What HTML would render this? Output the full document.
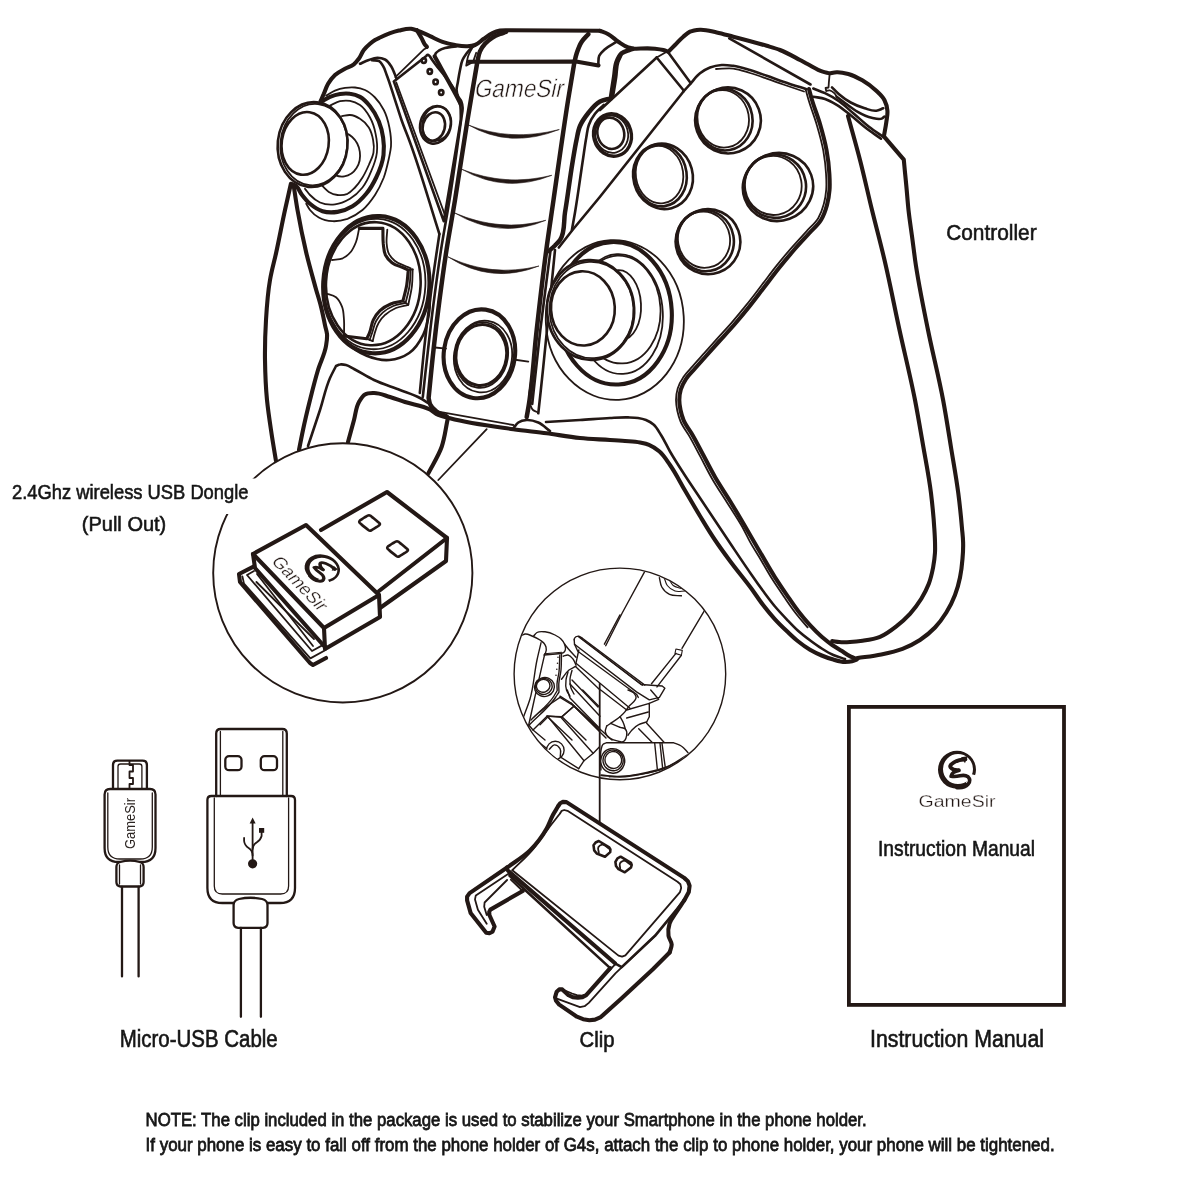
<!DOCTYPE html>
<html><head><meta charset="utf-8"><title>GameSir G4s package contents</title>
<style>
html,body{margin:0;padding:0;background:#fff;}
body{width:1200px;height:1200px;overflow:hidden;font-family:"Liberation Sans",sans-serif;}
svg{display:block;will-change:transform;}
path,ellipse,circle,rect,line{fill:none;stroke:#231815;stroke-linecap:round;stroke-linejoin:round;}
.x{stroke-width:4.5}
.o{stroke-width:4.1}
.c{stroke-width:3.1}
.m{stroke-width:2.6}
.u{stroke-width:2.3}
.t{stroke-width:1.8}
.h{stroke-width:1.3}
.w{fill:#fff}
.k{fill:#231815;stroke:none}
text{font-family:"Liberation Sans",sans-serif;fill:#161616;stroke:#161616;stroke-width:0.6;}
text.gs{fill:#231815;stroke:#fff;stroke-width:.3;}
#cg .t{stroke-width:1.4}
#cg .h{stroke-width:1.1}
#cg .m{stroke-width:2}
</style></head><body>
<svg width="1200" height="1200" viewBox="0 0 1200 1200">
<rect x="0" y="0" width="1200" height="1200" style="fill:#fff;stroke:none"/>
<defs>
<g id="emb">
<path class="k" fill-rule="evenodd" d="M-19,0a19,19 0 1 0 38,0a19,19 0 1 0 -38,0ZM-14,-0.700a15,15 0 1 1 30,0a15,15 0 1 1 -30,0Z"/>
<path d="M13,4L24,7L21,20L9,13Z" style="fill:#fff;stroke:none"/>
<path d="M8.500,-10.500Q2,-10.500 -3,-7.500T-6.500,-2.500Q-4,0.800 1.800,0.300" style="stroke-width:3.800"/>
<path d="M1.800,0.800Q-5,2 -6,6.500Q-2,7.200 3,6T11,7Q14.500,10.500 11,14.500T0,17.800" style="stroke-width:3.600"/>
<path class="k" d="M4,-12.500L10.500,-13.500L8,-6.500Z"/>
</g>
</defs>
<path class="t" d="M326.2,95.6C329.2,94.0 331.9,91.9 335.0,90.6C338.2,89.3 341.6,88.4 345.0,87.9C348.3,87.4 351.7,87.2 355.0,87.5C358.4,87.8 361.9,88.6 365.0,90.0C368.8,91.7 372.1,94.6 375.0,97.5C378.6,101.1 381.4,105.5 383.8,110.0C386.6,115.4 388.2,121.5 389.4,127.5C390.6,133.6 391.4,140.0 391.0,146.2C390.7,150.5 389.6,154.6 388.8,158.8C387.4,165.1 386.0,171.5 383.8,177.5C381.4,183.6 378.6,189.5 375.0,195.0C371.4,200.4 367.5,205.8 362.5,210.0C358.0,213.7 353.0,216.8 347.5,218.8C342.7,220.4 337.6,221.5 332.5,221.2C327.8,221.0 322.9,219.8 318.8,217.5C315.4,215.6 312.4,213.0 310.0,210.0C308.5,208.1 307.5,205.8 306.2,203.8"/>
<path class="o" d="M321.2,101.9C324.2,100.2 326.9,98.2 330.0,96.9C333.2,95.5 336.6,94.5 340.0,94.0C343.3,93.5 346.7,93.3 350.0,93.8C353.5,94.2 356.9,95.2 360.0,96.9C364.0,99.1 367.1,102.7 370.0,106.2C373.7,110.7 376.5,115.9 378.8,121.2C380.9,126.4 382.3,131.9 383.1,137.5C384.0,143.3 384.2,149.2 383.5,155.0C382.6,162.8 379.6,170.4 376.2,177.5C373.5,183.2 370.3,188.9 366.2,193.8C362.3,198.5 357.8,203.1 352.5,206.2C347.9,209.0 342.8,211.1 337.5,211.9C332.6,212.6 327.3,212.7 322.5,211.2C317.9,209.8 313.7,206.9 310.0,203.8C306.6,200.9 303.9,197.3 301.2,193.8C299.5,191.3 298.6,188.1 296.2,186.2C294.8,185.1 292.9,184.6 291.2,183.8"/>
<path class="t" d="M330.0,105.6C333.3,104.2 336.4,102.0 340.0,101.2C343.3,100.5 346.7,100.3 350.0,100.9C353.6,101.5 357.0,103.0 360.0,105.0C364.4,108.0 367.4,112.8 370.0,117.5C372.8,122.5 374.5,128.1 375.6,133.8C376.9,139.9 377.6,146.3 376.9,152.5C376.2,159.0 373.8,165.2 371.2,171.2C368.9,176.9 366.3,182.7 362.5,187.5C359.0,191.9 354.8,195.9 350.0,198.8C345.4,201.5 340.3,203.8 335.0,204.4C330.0,204.9 324.6,204.5 320.0,202.5C316.2,200.8 312.9,198.0 310.0,195.0C308.1,193.1 306.7,190.8 305.0,188.8"/>
<path class="t" d="M341.9,116.2C344.6,115.8 347.3,114.8 350.0,115.0C353.6,115.2 357.0,116.9 360.0,118.8C363.5,120.9 366.5,124.0 368.8,127.5C371.1,131.2 372.3,135.7 373.1,140.0C373.9,144.1 374.2,148.4 373.5,152.5C372.8,156.9 370.5,160.9 368.8,165.0C366.9,169.3 365.0,173.5 362.5,177.5C360.3,181.0 357.9,184.5 355.0,187.5C352.7,189.8 350.5,192.4 347.5,193.8C344.4,195.1 340.8,195.4 337.5,195.0C334.4,194.6 331.4,193.5 328.8,191.9C326.4,190.4 324.6,188.1 322.5,186.2"/>
<ellipse class="t" cx="341.2" cy="154.4" rx="18.8" ry="22.2" transform="rotate(-8.0 341.2 154.4)"/>
<ellipse class="m w" cx="312.6" cy="144.6" rx="34.9" ry="42.5" transform="rotate(6.0 312.6 144.6)"/>
<ellipse class="t" cx="313.8" cy="144.6" rx="33.4" ry="40.8" transform="rotate(6.0 313.8 144.6)"/>
<ellipse class="m" cx="305.2" cy="143.4" rx="23.5" ry="31.5" transform="rotate(8.0 305.2 143.4)"/>
<path class="o" d="M290.9,183.8C288.9,192.5 286.9,201.2 285.0,210.0C281.9,224.1 279.3,238.4 276.2,252.5C274.2,261.7 271.6,270.7 270.0,280.0C267.7,293.2 266.8,306.6 266.0,320.0C265.2,333.3 264.8,346.7 265.0,360.0C265.2,373.3 265.7,386.7 267.0,400.0C268.0,410.0 269.5,420.0 271.0,430.0C272.5,440.4 274.3,450.7 276.0,461.0"/>
<path class="o" d="M293.8,186.2C295.0,194.2 296.1,202.1 297.5,210.0C300.0,224.2 302.9,238.4 306.2,252.5C309.2,265.1 312.8,277.5 316.2,290.0C317.9,295.8 319.8,301.6 321.2,307.5C322.8,313.7 323.9,320.0 325.2,326.2C325.8,328.8 326.7,331.4 327.0,334.0C327.4,338.0 326.6,342.0 326.0,346.0C324.7,354.3 320.4,361.9 318.0,370.0C315.0,379.9 312.5,390.0 310.0,400.0C307.5,410.0 305.1,420.0 303.0,430.0C301.6,436.6 300.3,443.3 299.0,450.0"/>
<path class="o" d="M320.6,101.2C321.7,98.8 322.7,96.2 323.8,93.8C325.2,90.4 326.3,86.9 328.1,83.8C330.0,80.6 332.3,77.5 335.0,75.0C337.9,72.4 341.6,70.7 345.0,68.8C347.9,67.2 351.2,66.4 353.8,64.4C355.7,62.8 357.3,60.8 358.8,58.8C360.8,56.1 361.7,52.7 363.8,50.0C365.6,47.7 367.8,45.7 370.0,43.8C371.6,42.4 373.2,41.1 375.0,40.0C376.6,39.0 378.3,38.3 380.0,37.5C386.0,34.7 392.3,32.1 398.8,30.6C402.9,29.7 407.1,28.2 411.2,28.8C413.4,29.1 415.4,29.9 417.5,30.6C421.8,32.1 425.8,34.4 430.0,36.2C434.2,38.1 438.2,40.4 442.5,41.9C446.6,43.3 450.8,44.3 455.0,45.0C459.1,45.7 463.3,46.5 467.5,46.2C470.0,46.1 472.6,45.9 475.0,45.0C478.4,43.8 480.8,40.8 483.8,38.8C486.6,36.8 489.3,34.6 492.5,33.1C494.9,32.0 497.4,31.1 500.0,30.6C503.3,30.0 506.7,30.4 510.0,30.2L600.0,30.8"/>
<path class="o" d="M416.9,30.2C418.3,32.7 419.9,35.0 421.2,37.5C422.4,39.5 423.1,41.8 424.4,43.8C425.1,44.9 426.0,45.8 426.9,46.9"/>
<ellipse class="m" cx="423.8" cy="60.6" rx="2.2" ry="2.4"/>
<ellipse class="m" cx="429.8" cy="71.5" rx="2.2" ry="2.4"/>
<ellipse class="m" cx="435.6" cy="81.9" rx="2.2" ry="2.4"/>
<ellipse class="m" cx="441.2" cy="92.5" rx="2.2" ry="2.4"/>
<ellipse class="m" cx="435.5" cy="124.8" rx="15.2" ry="19.0" transform="rotate(15.0 435.5 124.8)"/>
<ellipse class="t" cx="436.5" cy="123.8" rx="14.0" ry="17.5" transform="rotate(15.0 436.5 123.8)"/>
<ellipse class="m" cx="433.8" cy="126.5" rx="11.0" ry="14.4" transform="rotate(15.0 433.8 126.5)"/>
<path class="t" d="M471.9,48.5C470.6,51.1 469.1,53.5 468.1,56.2C467.1,59.3 466.9,62.5 466.2,65.6L473.1,61.9L476.2,52.8"/>
<path class="m" d="M393.8,81.4C404.5,73.0 415.2,64.6 426.0,56.2C426.6,55.7 427.0,54.8 427.8,54.8C428.6,54.8 429.1,55.7 429.8,56.2C440.0,72.9 458.0,86.9 460.4,106.3C461.0,110.8 460.7,115.4 460.8,120.0L443.8,221.3L393.8,81.4"/>
<path class="t" d="M396.3,82.5L445.3,216.0"/>
<path class="t" d="M395.4,77.1L424.2,49.2L427.5,47.5"/>
<path class="m" d="M360.0,63.8C362.9,62.5 365.8,61.0 368.8,60.0C371.6,59.0 374.5,57.8 377.5,57.8C380.1,57.8 382.7,58.3 385.0,59.5C387.8,61.0 389.6,63.8 391.3,66.5C392.6,68.6 393.4,71.0 394.4,73.3C395.2,75.1 395.9,77.0 396.6,78.8"/>
<path class="m" d="M372.0,60.3C374.4,60.6 377.1,59.9 379.2,61.2C380.8,62.2 381.8,63.9 382.8,65.5C384.7,68.3 385.5,71.8 386.7,75.0C389.7,82.6 391.9,90.5 394.5,98.3C396.9,105.5 399.0,112.8 401.5,120.0C404.0,127.1 406.9,134.0 409.5,141.0C420.8,171.5 429.4,203.0 439.4,234.0"/>
<path class="o" d="M434.6,56.3C440.8,67.5 447.2,78.7 453.3,90.0C455.8,94.7 458.3,99.5 460.8,104.2"/>
<path class="m" d="M434.6,56.3C435.0,55.3 435.2,54.2 435.8,53.3C436.6,52.1 438.0,51.2 439.2,50.4C441.0,49.2 443.0,48.5 445.0,47.9C446.6,47.5 448.3,47.3 450.0,47.1C452.0,46.8 454.0,46.7 456.0,46.5"/>
<ellipse class="o" cx="376.3" cy="284.7" rx="53.1" ry="68.7" transform="rotate(3.0 376.3 284.7)"/>
<ellipse class="t" cx="374.7" cy="284.0" rx="50.7" ry="65.3" transform="rotate(3.0 374.7 284.0)"/>
<ellipse class="m" cx="373.3" cy="283.7" rx="47.3" ry="61.6" transform="rotate(3.0 373.3 283.7)"/>
<path class="m" d="M331.2,321.8C335.9,328.4 339.6,335.9 345.4,341.6C351.5,347.6 358.8,352.7 366.7,355.8C373.8,358.6 381.7,360.7 389.3,360.0C396.3,359.4 403.5,357.0 409.2,353.0C415.5,348.6 419.9,341.5 423.3,334.6C426.5,328.0 427.9,320.6 429.0,313.3C430.1,306.3 429.7,299.1 430.1,292.0"/>
<path class="c" d="M359.3,228.4L382.9,228.4C383.1,233.6 382.7,238.8 383.3,244.0C383.8,247.6 383.8,251.4 385.3,254.7C386.8,257.8 389.3,260.5 392.0,262.7C395.4,265.4 400.0,266.2 404.0,268.0C405.4,268.7 406.8,269.3 408.3,270.0C407.7,275.1 407.5,280.3 406.7,285.3C405.8,290.6 404.2,295.8 402.9,301.1C398.8,302.0 394.5,302.4 390.7,304.0C386.8,305.6 383.0,307.8 380.0,310.7C377.2,313.3 375.1,316.6 373.3,320.0C371.2,324.1 371.2,329.1 369.3,333.3C368.5,335.2 367.6,336.9 366.7,338.7L344.0,336.0"/>
<path class="t" d="M344.0,335.3C344.0,330.2 344.4,325.1 344.0,320.0C343.6,315.5 343.7,310.8 342.0,306.7C340.6,303.2 338.9,299.7 336.0,297.3C333.1,294.9 328.9,294.7 325.3,293.3"/>
<path class="t" d="M332.0,260.0C335.6,259.4 339.4,259.7 342.7,258.3C345.8,256.9 348.5,254.6 350.7,252.0C353.1,249.1 354.6,245.5 356.0,242.0C357.7,237.7 358.0,233.1 359.1,228.7"/>
<path class="t" d="M387.3,229.6C387.1,234.4 386.1,239.2 386.7,244.0C387.0,247.2 387.3,250.5 388.7,253.3C390.0,256.2 392.2,258.6 394.7,260.7C397.7,263.2 401.7,264.4 405.3,266.0C407.1,266.8 408.9,267.5 410.7,268.3C410.3,274.0 410.4,279.7 409.6,285.3C408.8,291.3 406.9,297.1 405.6,302.9C401.5,304.0 397.2,304.4 393.3,306.0C389.5,307.6 385.7,309.8 382.7,312.7C380.0,315.1 377.8,318.1 376.0,321.3C374.0,325.0 373.4,329.4 372.0,333.3C371.2,335.6 370.4,337.8 369.6,340.0"/>
<path class="t" d="M412.7,269.3C412.4,274.7 412.6,280.0 412.0,285.3C411.3,291.9 409.5,298.3 408.3,304.8C404.2,305.9 399.9,306.3 396.0,308.0C392.2,309.7 388.5,311.9 385.3,314.7C382.8,317.0 380.4,319.7 378.7,322.7C376.7,325.9 375.8,329.7 374.7,333.3C373.9,335.9 373.3,338.5 372.7,341.1"/>
<path class="t" d="M408.3,270.0L412.7,269.3"/>
<path class="t" d="M402.9,301.1L408.3,304.8"/>
<path class="t" d="M366.7,338.7L372.7,341.1"/>
<path class="x" d="M506.0,32.0C504.0,32.7 502.0,33.2 500.0,34.0C497.4,35.0 494.8,36.0 492.5,37.5C489.7,39.2 487.2,41.4 485.0,43.8C483.0,46.1 481.2,48.6 480.0,51.3C478.6,54.3 478.3,57.8 477.5,61.0C474.2,80.7 470.7,100.3 467.5,120.0C463.1,146.6 459.4,173.4 455.0,200.0C452.3,216.7 449.1,233.3 446.5,250.0C443.9,266.6 441.7,283.3 439.5,300.0C437.3,316.6 435.3,333.3 433.5,350.0C431.7,366.0 430.2,382.0 428.6,398.0C429.1,400.0 429.2,402.1 430.0,404.0C431.3,407.0 433.9,409.4 436.5,411.5C439.5,413.9 443.3,414.8 446.7,416.5"/>
<path class="m" d="M475.0,45.0C473.3,46.5 471.5,47.8 470.0,49.4C468.7,50.8 467.4,52.3 466.3,53.8C464.9,55.8 463.5,57.8 462.5,60.0C461.1,63.1 460.7,66.6 460.0,70.0C459.1,74.1 458.5,78.3 457.8,82.5C457.4,85.0 456.5,87.5 456.6,90.0C456.7,92.2 457.2,94.3 458.1,96.3C458.9,98.1 460.5,99.5 461.3,101.3C462.1,103.2 462.4,105.4 462.6,107.5C462.8,110.3 462.0,113.2 461.7,116.0C457.6,144.0 454.0,172.1 449.5,200.0C446.8,216.7 443.6,233.3 441.0,250.0C438.4,266.6 436.2,283.3 434.0,300.0C431.8,316.6 429.9,333.3 428.0,350.0C426.2,365.7 424.5,381.3 422.8,397.0"/>
<path class="m" d="M439.4,234.0C438.6,239.3 437.8,244.7 437.0,250.0C434.5,266.6 432.2,283.3 430.0,300.0C427.8,316.6 425.8,333.3 424.0,350.0C422.5,364.3 421.2,378.7 419.8,393.0"/>
<path class="o" d="M468.3,61.8L576.0,61.5L598.5,65.5"/>
<path class="x" d="M588.3,34.2C586.1,36.7 583.5,38.9 581.7,41.7C579.4,45.2 578.0,49.3 576.7,53.3C575.6,56.6 575.0,60.0 574.2,63.3C572.2,75.5 570.1,87.8 568.1,100.0C562.8,133.3 558.3,166.7 553.5,200.0C551.1,216.7 548.5,233.3 546.3,250.0C542.7,276.6 539.7,303.3 536.7,330.0C533.7,356.0 532.7,382.2 528.3,408.0C527.8,411.0 527.2,414.0 526.7,417.0"/>
<path class="m" d="M555.0,250.0C551.1,288.9 547.4,327.8 543.3,366.7C541.7,382.2 540.0,397.8 538.3,413.3"/>
<path class="m" d="M550.3,252.0C547.0,278.0 543.4,304.0 540.3,330.0C537.4,354.6 534.9,379.3 532.2,404.0"/>
<path class="m" d="M616.7,41.7C612.8,44.2 608.4,46.1 605.0,49.2C602.8,51.2 600.4,53.1 599.2,55.8C598.0,58.6 598.6,61.9 598.3,65.0"/>
<path class="o" d="M620.5,55.5C619.5,57.7 618.3,59.7 617.5,62.0C615.9,66.7 616.2,71.8 615.5,76.7C614.5,83.5 613.3,90.2 612.2,97.0"/>
<path class="x" d="M633.0,48.8C631.7,49.2 630.5,49.6 629.2,50.0C626.6,50.9 623.8,51.5 621.7,53.3C619.2,55.4 617.9,58.7 616.7,61.7C614.8,66.4 615.0,71.7 614.2,76.7C613.0,83.9 611.9,91.1 610.8,98.3C607.2,99.4 603.3,99.7 600.0,101.5C595.2,104.1 591.7,108.7 588.3,113.0C585.1,117.0 582.0,121.3 580.0,126.0C578.1,130.4 577.5,135.3 576.5,140.0C574.9,147.4 573.8,155.0 572.5,162.5C569.7,179.1 567.8,195.9 565.0,212.5C563.4,221.7 565.4,232.4 560.0,240.0C558.6,242.0 556.7,243.7 555.0,245.5C553.1,247.4 551.0,249.2 549.0,251.0"/>
<path class="m" d="M603.8,105.0C600.9,107.9 597.5,110.5 595.0,113.8C592.4,117.2 590.3,121.0 588.8,125.0C587.3,129.0 587.1,133.3 586.3,137.5C584.8,145.8 583.8,154.2 582.5,162.5C580.0,179.2 577.8,195.9 575.0,212.5C574.0,218.3 572.9,224.2 571.9,230.0"/>
<path class="m" d="M683.3,91.7L600.0,196.7L572.5,230.0L558.8,247.5"/>
<path class="m" d="M600.0,110.0L656.7,57.5"/>
<path class="k" d="M468.5,125.0Q510.1,149.2 559.3,129.5Q510.1,142.0 468.5,125.0Z" style="stroke:#231815;stroke-width:.6"/>
<path class="k" d="M461.8,169.3Q505.2,194.1 551.8,175.3Q505.2,186.9 461.8,169.3Z" style="stroke:#231815;stroke-width:.6"/>
<path class="k" d="M454.3,212.8Q500.0,239.9 545.8,220.3Q500.0,232.7 454.3,212.8Z" style="stroke:#231815;stroke-width:.6"/>
<path class="k" d="M448.3,257.0Q491.4,284.9 539.0,266.0Q491.4,277.7 448.3,257.0Z" style="stroke:#231815;stroke-width:.6"/>
<ellipse class="o" cx="479.4" cy="353.8" rx="35.6" ry="44.6" transform="rotate(8.0 479.4 353.8)"/>
<ellipse class="c" cx="481.3" cy="355.0" rx="25.3" ry="30.5" transform="rotate(8.0 481.3 355.0)"/>
<ellipse class="t" cx="481.5" cy="355.0" rx="26.5" ry="33.0" transform="rotate(8.0 481.5 355.0)"/>
<ellipse class="t" cx="483.0" cy="356.5" rx="29.0" ry="36.0" transform="rotate(8.0 483.0 356.5)"/>
<path class="t" d="M435.0,347.5L446.0,348.6"/>
<path class="t" d="M513.5,359.5L528.3,361.7"/>
<path class="o" d="M348.0,442.0C350.0,434.7 352.0,427.3 354.0,420.0C355.7,414.0 355.8,407.3 359.0,402.0C360.6,399.3 362.2,396.1 365.0,394.5C367.6,393.0 371.0,393.1 374.0,393.0C379.5,392.9 384.7,395.5 390.0,397.0C395.1,398.5 400.0,400.4 405.0,402.0C413.3,404.7 422.4,405.3 430.0,409.5C432.9,411.1 435.3,413.6 438.3,415.0C442.0,416.7 446.1,417.3 450.0,418.3C470.7,423.8 492.1,426.2 513.3,429.2C524.4,430.8 535.6,431.8 546.7,433.3C557.8,434.8 568.8,436.9 580.0,438.0C590.0,439.0 600.0,439.3 610.0,440.0C615.0,440.3 620.0,440.6 625.0,441.0C630.0,441.4 635.1,441.5 640.0,442.5C643.0,443.1 646.1,443.6 649.0,444.8C652.8,446.4 656.4,448.8 659.5,451.5C663.8,455.2 666.7,460.3 670.0,465.0C675.7,473.1 680.0,482.0 685.0,490.5C690.0,499.0 694.9,507.6 700.0,516.0C704.9,524.1 709.7,532.2 715.0,540.0C719.8,547.1 724.9,554.1 730.0,561.0C737.0,570.5 744.7,579.5 751.7,589.0C755.6,594.4 759.2,600.0 763.3,605.3C767.0,610.1 770.9,614.8 775.0,619.3C778.7,623.4 782.7,627.2 786.7,631.0C790.5,634.6 794.2,638.3 798.3,641.5C802.0,644.5 805.9,647.3 810.0,649.7C813.8,651.9 817.7,653.8 821.7,655.5C825.5,657.1 829.3,658.5 833.3,659.6C837.1,660.7 841.0,662.0 845.0,662.0C847.3,662.0 849.7,661.9 852.0,661.3C853.6,660.9 855.1,660.2 856.7,659.6"/>
<path class="m" d="M308.0,446.0C312.0,434.0 316.1,422.0 320.0,410.0C323.4,399.4 325.5,388.2 330.0,378.0C331.8,373.9 334.0,370.0 336.0,366.0C337.3,365.5 338.6,364.7 340.0,364.5C342.0,364.1 344.0,364.5 346.0,365.0C348.9,365.7 351.3,367.6 354.0,369.0C360.8,372.5 367.1,376.7 374.0,380.0C382.4,384.0 391.4,386.6 400.0,390.0C406.7,392.6 413.7,394.5 420.0,398.0C422.8,399.5 425.3,401.3 428.0,403.0"/>
<path class="t" d="M438.3,411.7L513.3,425.0"/>
<path class="m" d="M513.3,428.3C515.0,426.4 516.2,423.9 518.3,422.5C520.7,420.9 523.8,420.2 526.7,420.0C530.6,419.7 534.7,421.0 538.3,422.5C542.7,424.4 546.1,428.2 550.0,431.0"/>
<path class="o" d="M447.5,420.0C445.6,428.9 444.7,438.1 441.7,446.7C438.4,456.1 432.8,464.4 428.3,473.3"/>
<path class="t" d="M486.7,429.2L438.3,480.0"/>
<path class="o" d="M600.0,30.8C602.8,31.9 605.7,32.8 608.3,34.2C612.0,36.2 614.8,39.4 618.3,41.7C621.5,43.8 624.6,46.3 628.3,47.5C629.9,48.0 631.6,48.3 633.3,48.7C640.5,48.7 647.8,47.9 655.0,48.7C657.8,49.0 660.6,49.3 663.3,50.0C665.0,50.5 666.6,51.1 668.3,51.7C670.5,49.5 672.8,47.2 675.0,45.0C677.8,42.2 680.3,39.2 683.3,36.7C685.4,34.9 687.5,32.9 690.0,31.7C693.1,30.2 696.6,29.9 700.0,29.7C705.6,29.4 711.2,31.3 716.7,32.5C722.3,33.7 727.8,35.3 733.3,36.7C744.5,39.6 755.7,42.5 766.7,45.8C771.1,47.1 775.7,48.3 780.0,50.0C787.0,52.7 793.4,56.5 800.0,60.0C802.5,61.3 805.0,62.7 807.5,64.0C812.5,66.6 817.3,69.9 822.7,71.6C825.0,72.3 827.4,72.7 829.7,73.3C832.0,72.9 834.3,72.3 836.7,72.2C840.6,72.0 844.5,72.9 848.3,73.9C853.2,75.3 857.9,77.7 862.3,80.3C867.3,83.2 872.1,86.8 876.3,90.8C879.3,93.7 882.6,96.5 884.5,100.2C886.2,103.4 887.1,107.1 887.4,110.7C887.8,114.6 886.8,118.4 886.3,122.3C885.7,127.0 884.7,131.6 883.9,136.3L903.8,159.7C904.2,164.0 904.6,168.2 905.0,172.5C905.6,178.3 906.2,184.2 906.7,190.0C907.3,196.7 907.8,203.3 908.5,210.0C909.6,220.0 911.2,230.0 912.5,240.0C913.4,246.7 914.2,253.3 915.1,260.0C918.4,283.5 923.3,306.7 928.0,330.0C932.7,353.4 938.7,376.5 943.1,400.0C946.0,415.5 948.4,431.1 950.9,446.7C953.4,462.2 956.3,477.7 958.3,493.3C959.8,504.9 961.0,516.6 962.0,528.3C962.4,532.9 963.0,537.4 963.1,542.0C963.3,547.6 963.0,553.2 962.5,558.8C962.0,565.1 961.3,571.3 960.0,577.5C958.8,583.4 957.2,589.3 955.0,595.0C952.7,601.1 949.7,607.0 946.3,612.5C943.0,617.8 939.3,623.0 935.0,627.5C930.5,632.2 925.4,636.4 920.0,640.0C914.5,643.6 908.6,646.5 902.5,648.8C895.7,651.4 888.5,652.9 881.3,654.4C873.4,656.1 865.4,656.9 857.5,658.1"/>
<path class="t" d="M600.0,101.7L610.8,98.3"/>
<path class="m" d="M656.7,57.5L683.3,90.0"/>
<path class="m" d="M668.3,52.5L690.8,83.3"/>
<path class="t" d="M656.7,57.5L666.7,51.7"/>
<path class="m" d="M683.3,91.7C685.8,88.9 688.3,86.1 690.8,83.3C693.8,79.9 696.4,76.1 700.0,73.3C703.0,70.9 706.4,68.9 710.0,67.5C713.7,66.1 717.7,65.3 721.7,65.0C725.6,64.7 729.5,65.3 733.3,65.8C739.0,66.6 744.5,68.4 750.0,70.0C755.6,71.7 761.1,73.8 766.7,75.8C772.2,77.7 777.7,79.8 783.3,81.7C790.8,84.3 798.4,86.6 806.0,89.0"/>
<path class="t" d="M716.0,69.0C721.8,68.9 727.6,67.9 733.3,68.6C739.0,69.3 744.5,71.4 750.0,73.0C755.6,74.7 761.2,76.7 766.7,78.6C772.3,80.5 777.8,82.6 783.3,84.5C790.2,86.9 797.1,89.2 804.0,91.5"/>
<path class="m" d="M729.3,38.3L810.5,84.5"/>
<path class="o" d="M809.0,89.0C810.0,92.7 810.9,96.4 812.0,100.0C814.4,108.1 817.6,115.9 820.0,124.0C822.5,132.6 824.9,141.2 826.5,150.0C827.9,157.6 828.9,165.3 829.3,173.0C829.6,178.7 830.0,184.4 829.5,190.0C829.1,195.1 828.3,200.1 827.0,205.0C825.6,210.2 823.8,215.4 821.0,220.0C817.9,225.2 813.0,229.0 809.0,233.5C804.0,239.0 798.9,244.4 794.0,250.0C788.9,255.9 783.9,261.9 779.0,268.0C773.9,274.4 769.0,281.0 764.0,287.5C759.0,294.0 754.1,300.6 749.0,307.0C744.1,313.1 739.1,319.1 734.0,325.0C729.1,330.6 724.0,336.0 719.0,341.5C715.0,346.0 711.0,350.5 707.0,355.0C703.0,359.5 699.0,364.0 695.0,368.5C692.0,372.0 688.5,375.1 686.0,379.0C683.9,382.3 681.9,385.8 680.8,389.5C679.8,392.9 679.3,396.5 679.3,400.0C679.3,403.4 679.8,406.7 680.5,410.0C681.2,413.4 682.2,416.8 683.5,420.0C685.7,425.4 689.6,429.9 692.5,435.0C696.2,441.4 699.5,448.0 703.0,454.5C707.0,462.0 710.8,469.6 715.0,477.0C719.7,485.2 725.1,493.0 730.0,501.0C740.3,517.8 750.0,535.0 760.0,552.0C765.0,560.4 769.7,569.0 775.0,577.3C778.8,583.2 782.7,589.0 786.7,594.8C790.5,600.3 794.2,605.9 798.3,611.2C802.0,616.0 805.9,620.7 810.0,625.2C813.7,629.2 817.6,633.2 821.7,636.8C825.1,639.7 828.5,642.5 832.2,645.0C835.2,647.1 838.4,648.9 841.5,650.8C844.6,652.8 847.5,655.1 850.8,656.7C852.7,657.6 854.7,658.2 856.7,659.0"/>
<path class="t" d="M805.8,89.9C806.8,93.6 807.8,97.3 808.9,101.0C811.3,109.0 814.4,116.8 816.8,124.9C819.3,133.4 821.7,141.9 823.3,150.6C824.6,158.1 825.6,165.6 826.0,173.2C826.3,178.7 826.7,184.3 826.2,189.8C825.8,194.6 825.1,199.4 823.8,204.1C822.5,209.0 820.8,213.9 818.2,218.2C815.2,223.2 810.4,226.9 806.5,231.3C801.5,236.8 796.4,242.2 791.5,247.8C786.3,253.7 781.3,259.8 776.4,265.9C771.3,272.3 766.4,279.0 761.4,285.5C756.4,292.0 751.5,298.5 746.4,304.9C741.5,311.0 736.6,316.9 731.5,322.8C726.6,328.4 721.5,333.8 716.5,339.3C712.5,343.8 708.5,348.3 704.5,352.8C700.5,357.3 696.4,361.7 692.5,366.3C689.4,369.9 685.9,373.2 683.3,377.2C681.0,380.7 678.9,384.5 677.7,388.5C676.6,392.2 676.0,396.1 676.0,400.0C676.0,403.6 676.6,407.2 677.3,410.7C678.1,414.3 679.1,418.0 680.5,421.4C682.7,426.9 686.7,431.5 689.6,436.6C693.3,443.0 696.6,449.6 700.1,456.1C704.1,463.6 707.8,471.3 712.1,478.7C716.8,486.9 722.2,494.7 727.2,502.7C732.2,510.7 737.6,518.5 742.2,526.7C744.9,531.6 747.2,536.7 749.9,541.6C753.2,547.6 757.0,553.3 760.5,559.2C764.4,565.8 768.1,572.6 772.2,579.1C776.0,585.1 780.0,590.9 784.0,596.7C787.8,602.2 791.6,607.9 795.7,613.2C799.5,618.1 803.6,622.7 807.6,627.4"/>
<path class="t" d="M829.7,73.5C829.5,76.0 829.2,78.5 829.0,81.0C828.8,83.2 828.7,85.3 828.5,87.5L825.6,88.0L826.2,91.0C827.4,90.8 828.5,90.2 829.7,90.3C831.5,90.5 833.0,91.9 834.3,93.2C835.3,94.2 835.9,95.5 836.7,96.7"/>
<path class="m" d="M832.0,87.3C834.3,89.6 836.5,92.1 839.0,94.3C842.6,97.4 846.5,100.2 850.7,102.5C855.1,104.9 859.9,106.9 864.7,108.3C868.5,109.4 872.4,111.2 876.3,110.7C878.7,110.4 881.0,109.1 883.3,108.3"/>
<path class="m" d="M836.7,96.7C839.8,99.0 842.9,101.4 846.0,103.7C849.8,106.5 853.6,109.5 857.7,111.8C862.1,114.3 866.7,116.7 871.7,117.7C875.1,118.4 879.1,120.0 882.2,118.3C883.0,117.8 883.7,117.1 884.5,116.5"/>
<path class="m" d="M813.3,88.5C817.2,90.1 821.2,91.4 825.0,93.2C829.9,95.5 834.6,98.2 839.0,101.3C844.0,104.8 848.4,109.1 853.0,113.0C858.5,117.6 863.6,122.6 869.3,127.0C873.8,130.5 878.6,133.6 883.3,136.9"/>
<path class="m" d="M813.3,96.7C817.2,97.5 821.2,97.7 825.0,99.0C829.1,100.4 833.0,102.6 836.7,104.8C841.7,107.8 846.1,111.7 850.7,115.3C855.5,119.1 859.9,123.3 864.7,127.0C870.0,131.1 875.6,134.8 881.0,138.7"/>
<path class="o" d="M848.0,116.0C852.0,130.7 856.2,145.3 860.0,160.0C864.3,176.6 867.9,193.4 872.0,210.0C876.1,226.7 880.6,243.3 884.5,260.0C890.0,283.2 894.4,306.7 899.5,330.0C904.6,353.4 910.4,376.5 915.0,400.0C918.0,415.5 920.6,431.1 923.3,446.7C926.0,462.2 929.1,477.7 931.0,493.3C932.4,504.9 933.6,516.6 934.3,528.3C934.6,532.9 934.9,537.4 935.0,542.0C935.1,545.5 935.2,549.0 935.0,552.5C934.7,557.5 934.0,562.5 933.1,567.5C932.0,573.0 930.8,578.5 928.8,583.8C926.8,589.0 924.2,594.0 921.3,598.8C918.0,604.1 914.2,609.2 910.0,613.8C905.8,618.4 901.2,622.5 896.3,626.3C891.2,630.3 886.0,634.3 880.0,636.8C874.5,639.1 868.4,639.9 862.5,640.8C858.4,641.4 854.2,641.8 850.0,642.0C846.4,642.2 842.8,642.3 839.2,642.0C836.9,641.8 834.5,641.3 832.2,641.0"/>
<ellipse class="m" cx="728.0" cy="120.4" rx="32.8" ry="33.0" transform="rotate(-20.0 728.0 120.4)"/>
<ellipse class="m" cx="724.4" cy="119.6" rx="28.1" ry="30.9" transform="rotate(-10.0 724.4 119.6)"/>
<ellipse class="t" cx="723.2" cy="118.8" rx="25.7" ry="28.8" transform="rotate(-10.0 723.2 118.8)"/>
<ellipse class="m" cx="663.0" cy="176.3" rx="29.7" ry="33.0" transform="rotate(-15.0 663.0 176.3)"/>
<ellipse class="m" cx="660.5" cy="175.5" rx="26.2" ry="30.9" transform="rotate(-8.0 660.5 175.5)"/>
<ellipse class="t" cx="659.5" cy="174.7" rx="23.7" ry="28.8" transform="rotate(-8.0 659.5 174.7)"/>
<ellipse class="m" cx="778.0" cy="187.0" rx="35.3" ry="33.8" transform="rotate(-20.0 778.0 187.0)"/>
<ellipse class="m" cx="775.0" cy="186.2" rx="31.0" ry="31.7" transform="rotate(-10.0 775.0 186.2)"/>
<ellipse class="t" cx="773.3" cy="185.4" rx="28.3" ry="29.6" transform="rotate(-10.0 773.3 185.4)"/>
<ellipse class="m" cx="708.0" cy="241.7" rx="32.3" ry="32.5" transform="rotate(-20.0 708.0 241.7)"/>
<ellipse class="m" cx="705.3" cy="240.7" rx="28.5" ry="30.5" transform="rotate(-10.0 705.3 240.7)"/>
<ellipse class="t" cx="704.0" cy="239.7" rx="26.0" ry="28.2" transform="rotate(-10.0 704.0 239.7)"/>
<ellipse class="m" cx="612.5" cy="135.0" rx="19.2" ry="21.7" transform="rotate(-15.0 612.5 135.0)"/>
<ellipse class="t" cx="612.9" cy="135.4" rx="17.6" ry="20.2" transform="rotate(-15.0 612.9 135.4)"/>
<ellipse class="t" cx="611.5" cy="134.0" rx="16.5" ry="19.0" transform="rotate(-15.0 611.5 134.0)"/>
<ellipse class="m" cx="610.8" cy="133.3" rx="13.3" ry="15.8" transform="rotate(-15.0 610.8 133.3)"/>
<ellipse class="t" cx="614.8" cy="320.0" rx="69.0" ry="79.9" transform="rotate(-3.0 614.8 320.0)"/>
<ellipse class="o" cx="614.8" cy="313.3" rx="57.0" ry="71.3" transform="rotate(-3.0 614.8 313.3)"/>
<ellipse class="t" cx="620.0" cy="314.0" rx="42.8" ry="60.0" transform="rotate(-3.0 620.0 314.0)"/>
<ellipse class="t" cx="620.0" cy="309.5" rx="40.5" ry="54.0" transform="rotate(-3.0 620.0 309.5)"/>
<ellipse class="t" cx="620.0" cy="305.0" rx="21.0" ry="35.0" transform="rotate(-3.0 620.0 305.0)"/>
<ellipse class="m w" cx="590.6" cy="310.0" rx="43.6" ry="49.9" transform="rotate(-3.0 590.6 310.0)"/>
<ellipse class="t" cx="591.6" cy="310.0" rx="42.0" ry="48.2" transform="rotate(-3.0 591.6 310.0)"/>
<ellipse class="m" cx="582.9" cy="308.4" rx="31.9" ry="37.1" transform="rotate(-3.0 582.9 308.4)"/>
<path class="m" d="M546.0,422.0C557.3,421.3 568.7,420.7 580.0,420.0C590.0,419.4 600.0,418.5 610.0,418.0C616.0,417.7 622.0,417.2 628.0,417.4C631.3,417.5 634.7,417.5 638.0,418.0C640.7,418.4 643.5,419.0 646.0,420.0C648.7,421.1 651.3,422.6 653.5,424.5C656.8,427.3 658.7,431.4 661.0,435.0C664.4,440.3 666.9,446.1 670.0,451.5C674.7,459.7 679.9,467.6 685.0,475.5C689.9,483.1 695.0,490.5 700.0,498.0C705.0,505.5 710.0,513.0 715.0,520.5C720.0,528.0 725.0,535.5 730.0,543.0C737.2,553.7 744.3,564.4 751.7,575.0C755.5,580.5 759.3,585.9 763.3,591.3C767.1,596.4 770.9,601.6 775.0,606.5C778.7,610.9 782.7,615.1 786.7,619.3C790.5,623.3 794.2,627.3 798.3,631.0C802.0,634.3 806.0,637.3 810.0,640.3C813.8,643.1 817.7,646.0 821.7,648.5C825.5,650.9 829.2,653.2 833.3,655.0C837.1,656.7 841.1,657.7 845.0,659.0"/>
<path class="t" d="M531.0,380.0C530.7,388.0 527.2,396.5 530.0,404.0C530.8,406.1 531.3,408.5 533.0,410.0C534.1,411.0 535.7,411.3 537.0,412.0"/>
<text transform="translate(473.5,97) skewX(-12)" font-size="25.2" textLength="89" lengthAdjust="spacingAndGlyphs" class="gs" style="stroke-width:.5">GameSir</text>
<circle class="w" cx="342.8" cy="572.9" r="129.6" style="stroke-width:1.9"/>
<path class="o" d="M321.0,530.0L387.0,492.0L447.0,538.0L446.0,561.0L380.0,608.0"/>
<path class="o" d="M447.0,538.0L379.0,591.0"/>
<path class="m" d="M360.0,520.4L362.4,518.8C363.8,517.9 365.1,516.9 366.6,516.2C367.4,515.8 368.1,515.2 369.0,515.2C369.9,515.2 370.6,516.0 371.4,516.4C373.6,518.3 375.9,520.0 378.0,522.0C378.7,522.7 380.0,523.1 380.0,524.0C380.0,524.9 378.9,525.3 378.4,526.0C376.4,527.2 374.5,528.5 372.4,529.6C371.6,530.0 370.9,530.8 370.0,530.8C369.1,530.8 368.4,529.9 367.6,529.4C365.4,527.6 363.0,526.0 361.0,524.0C360.4,523.4 359.2,522.9 359.2,522.0C359.2,521.4 359.7,520.9 360.0,520.4Z"/>
<path class="m" d="M388.0,546.4L390.4,544.8C391.8,543.9 393.1,542.9 394.6,542.2C395.4,541.8 396.1,541.2 397.0,541.2C397.9,541.2 398.6,542.0 399.4,542.4C401.6,544.3 403.9,546.0 406.0,548.0C406.7,548.7 408.0,549.1 408.0,550.0C408.0,550.9 406.9,551.3 406.4,552.0C404.4,553.2 402.5,554.5 400.4,555.6C399.6,556.0 398.9,556.8 398.0,556.8C397.1,556.8 396.4,555.9 395.6,555.4C393.4,553.6 391.0,552.0 389.0,550.0C388.4,549.4 387.2,548.9 387.2,548.0C387.2,547.4 387.7,546.9 388.0,546.4Z"/>
<path class="o" d="M254.0,566.4L239.0,574.0L240.0,582.0L310.0,663.0L313.0,665.0L326.0,658.0"/>
<path class="t" d="M242.4,576.4L244.0,583.6L310.4,658.4L325.6,650.0"/>
<path class="t" d="M254.0,571.0L247.0,575.0L312.0,651.0L324.0,644.4"/>
<path class="t" d="M257.0,574.0L313.0,646.0"/>
<path class="t" d="M256.4,582.0L314.0,639.0"/>
<path class="o w" d="M253.0,554.0L306.0,525.0L379.0,595.0L380.0,617.0L325.0,649.0L324.0,628.0Z"/>
<path class="o" d="M324.0,628.0L379.0,595.0"/>
<path class="o" d="M253.0,554.0L255.0,568.0L324.0,646.0"/>
<text transform="matrix(0.693,0.721,0.8,-0.48,270.6,561.4) scale(1,-1)" font-size="19.5" textLength="70" lengthAdjust="spacingAndGlyphs" class="gs">GameSir</text>
<use href="#emb" transform="translate(322.3,568.5) rotate(46) skewX(-14) scale(0.86,0.8)"/>
<circle class="w" cx="619.9" cy="673.9" r="105.8" style="stroke-width:1.4"/>
<clipPath id="cc"><circle cx="619.9" cy="673.9" r="105.3"/></clipPath>
<g id="cg" clip-path="url(#cc)">
<path class="t" d="M644.8,571.4L622.2,613.0L605.7,645.7"/>
<path class="t" d="M620.0,614.9L604.4,644.2"/>
<path class="t" d="M707.1,606.2L682.0,648.4"/>
<path class="h" d="M675.9,649.0L682.3,650.4L681.4,655.2L675.0,653.4Z"/>
<path class="t" d="M675.9,653.4L651.5,683.8"/>
<path class="t" d="M681.4,655.2L657.0,686.9"/>
<path class="t" d="M659.4,577.8C660.2,580.9 660.2,584.3 661.8,587.0C663.5,590.1 666.3,592.8 669.5,594.3C673.1,596.1 677.4,595.3 681.4,595.8"/>
<path class="h" d="M664.4,578.2C665.3,580.6 665.7,583.4 667.3,585.5C669.2,588.1 672.0,590.0 675.0,591.0C678.2,592.1 681.7,591.0 685.1,591.0"/>
<path class="h" d="M669.1,579.3C670.5,581.4 671.3,583.9 673.2,585.5C675.4,587.4 678.7,587.5 681.4,588.5"/>
<path class="t" d="M574.2,639.8C574.3,639.3 574.3,638.8 574.5,638.3C575.1,637.0 576.8,636.2 578.2,636.1C579.8,636.0 581.0,637.6 582.4,638.3"/>
<path class="t" d="M578.2,636.5L641.1,684.5L662.2,686.0L664.9,688.2L659.4,697.4L649.3,699.9L636.5,691.9L574.5,644.2L574.2,639.8"/>
<path class="t" d="M582.4,638.3L644.8,685.1"/>
<path class="h" d="M580.2,637.6L642.4,685.3"/>
<path class="t" d="M574.5,644.2L577.8,651.2L636.5,694.2L638.3,697.4"/>
<path class="t" d="M522.5,635.0C523.3,634.7 524.1,634.2 525.0,634.0C527.4,633.5 529.7,635.1 532.0,636.0C534.8,637.1 537.5,638.3 540.0,640.0C541.4,641.0 542.9,641.9 544.0,643.2C544.9,644.3 545.6,645.6 546.0,647.0C546.5,648.9 546.4,651.2 545.5,653.0C545.2,653.7 544.6,654.3 544.2,655.0"/>
<path class="t" d="M533.5,636.2C534.7,635.0 535.5,633.4 537.0,632.5C539.3,631.1 542.3,631.6 545.0,631.8C548.5,632.1 551.9,633.4 555.0,635.0C557.1,636.1 559.3,637.3 561.0,639.0C562.4,640.4 563.8,642.1 564.5,644.0C565.4,646.5 566.1,650.2 564.2,652.0C563.4,652.8 562.2,653.0 561.2,653.5"/>
<path class="t" d="M544.2,655.0L561.2,653.5"/>
<path class="h" d="M544.5,653.8L561.7,652.3"/>
<path class="t" d="M541.0,642.8C539.7,648.5 538.2,654.2 537.0,660.0C534.2,672.9 533.8,686.4 530.0,699.0C528.2,704.8 525.9,710.5 523.8,716.2"/>
<path class="t" d="M544.5,655.2C541.1,670.1 537.5,685.0 534.2,700.0C532.4,708.2 530.6,716.3 528.8,724.5"/>
<path class="t" d="M561.5,653.8C561.3,659.2 561.5,664.6 561.0,670.0C560.5,674.7 559.0,679.3 558.8,684.0C558.7,686.7 558.9,689.3 559.0,692.0C557.8,693.8 556.7,695.7 555.5,697.5C548.3,708.2 537.7,716.2 528.8,725.5"/>
<path class="t" d="M559.8,655.2C559.5,660.8 559.6,666.4 559.0,672.0C558.5,676.0 557.2,679.9 557.0,684.0C556.9,686.2 557.1,688.3 557.2,690.5C556.1,692.3 555.1,694.2 554.0,696.0C548.1,705.4 538.7,712.0 531.0,720.0"/>
<ellipse class="k" cx="558.0" cy="657.2" rx="0.8" ry="0.8"/>
<ellipse class="k" cx="557.5" cy="663.2" rx="0.8" ry="0.8"/>
<ellipse class="k" cx="556.8" cy="669.2" rx="0.8" ry="0.8"/>
<ellipse class="k" cx="556.0" cy="675.2" rx="0.8" ry="0.8"/>
<ellipse class="t w" cx="544.5" cy="687.0" rx="10.0" ry="9.5" transform="rotate(-20.0 544.5 687.0)"/>
<ellipse class="t" cx="543.8" cy="686.4" rx="8.4" ry="8.0" transform="rotate(-20.0 543.8 686.4)"/>
<ellipse class="t" cx="543.2" cy="685.8" rx="6.8" ry="6.4" transform="rotate(-20.0 543.2 685.8)"/>
<path class="t" d="M564.5,644.0C565.7,645.5 566.8,647.0 568.0,648.5C570.5,651.5 573.3,654.3 576.0,657.2"/>
<path class="t" d="M563.2,656.2C564.8,655.8 566.4,654.8 568.0,655.0C570.1,655.3 571.6,657.3 573.0,659.0C574.4,660.7 575.0,663.0 576.0,665.0"/>
<path class="t" d="M561.5,679.2C564.0,676.1 565.9,672.4 569.0,670.0C571.1,668.4 573.7,667.5 576.0,666.2"/>
<path class="t" d="M568.0,672.0C567.3,674.7 566.3,677.3 566.0,680.0C565.6,683.3 565.4,686.8 566.5,690.0C567.3,692.3 568.8,694.1 570.0,696.2"/>
<path class="t" d="M572.0,670.5C571.3,673.3 570.2,676.1 570.0,679.0C569.8,682.0 570.1,685.1 571.0,688.0C571.7,690.1 573.0,692.0 574.0,694.0"/>
<path class="t" d="M572.0,680.0L598.0,707.0"/>
<path class="t" d="M570.0,684.0L600.0,716.2"/>
<path class="t" d="M576.0,667.0L600.0,690.0"/>
<path class="t" d="M560.0,696.2L571.0,703.0L612.0,740.0"/>
<path class="t" d="M547.0,716.2L562.0,716.6L574.0,706.2L571.0,703.0"/>
<path class="t" d="M547.0,716.2L572.0,740.0"/>
<path class="t" d="M562.0,716.8L586.0,740.0"/>
<path class="t" d="M574.0,706.2L606.0,738.0"/>
<path class="t" d="M528.8,725.0L533.0,730.0L547.0,716.2"/>
<path class="t" d="M533.0,730.0L545.0,740.0"/>
<path class="t" d="M578.8,650.0L576.0,663.2L630.0,708.2"/>
<path class="t" d="M547.3,716.0L561.3,717.3L574.0,706.0L560.0,697.3"/>
<path class="t" d="M548.0,716.7L584.0,760.7"/>
<path class="t" d="M561.3,717.7L593.1,753.3"/>
<path class="t" d="M574.0,706.3L599.3,730.0"/>
<path class="t" d="M578.7,768.7L584.0,760.7L593.3,753.3L599.3,747.1"/>
<path class="t" d="M540.0,712.0L547.3,706.0L560.0,697.3"/>
<path class="t" d="M567.3,690.0L570.0,698.0L599.3,728.0"/>
<path class="t" d="M582.7,690.0L599.3,706.7"/>
<path class="t" d="M540.0,724.7L548.0,716.7"/>
<path class="t" d="M540.0,743.3L545.3,747.3L578.7,768.7"/>
<ellipse class="t w" cx="555.3" cy="750.3" rx="8.8" ry="9.1"/>
<path class="t" d="M549.3,749.3C551.0,747.9 552.2,745.1 554.4,744.9C556.6,744.8 558.8,746.8 560.0,748.7C561.4,750.9 560.2,754.0 560.3,756.7"/>
<path class="t" d="M606.7,726.0C608.0,725.1 609.3,724.2 610.7,723.3C613.8,721.2 617.1,719.2 620.0,716.7C621.9,715.0 623.8,713.3 625.3,711.3C626.3,710.1 627.1,708.7 628.0,707.3C630.5,703.7 637.1,701.0 636.0,696.7C635.6,695.2 634.7,693.8 633.6,692.7C632.1,691.2 629.9,690.9 628.0,690.0"/>
<path class="t" d="M606.7,726.0C606.2,727.8 605.2,729.5 605.3,731.3C605.5,732.8 606.1,734.3 606.9,735.6C609.2,739.3 614.5,740.2 618.7,741.3C619.6,741.6 620.6,742.1 621.6,742.0C624.4,741.8 626.2,738.1 626.7,735.3C627.0,733.2 626.9,730.5 625.3,728.9C624.0,727.6 621.8,727.9 620.0,727.3"/>
<path class="t" d="M610.7,723.3L620.0,727.3"/>
<path class="t" d="M620.0,716.7C621.1,718.7 622.4,720.6 623.3,722.7C624.2,724.7 624.7,726.8 625.3,728.9"/>
<path class="t" d="M600.7,690.0L626.7,710.0L649.3,703.3L649.3,716.7L646.7,722.0"/>
<path class="t" d="M646.7,722.0C644.0,722.9 641.1,723.3 638.7,724.7C636.2,726.0 633.9,727.9 632.0,730.0C630.5,731.6 629.3,733.6 628.0,735.3"/>
<path class="t" d="M626.7,718.0L648.3,712.0"/>
<path class="t" d="M650.7,690.0L658.7,699.3L649.3,703.3"/>
<path class="t" d="M638.7,728.7L652.0,742.3"/>
<path class="t" d="M646.7,723.3L664.0,742.3"/>
<path class="t" d="M600.9,770.0C601.1,762.9 599.4,755.5 601.3,748.7C601.7,747.3 601.8,745.7 602.7,744.7C603.6,743.5 605.3,743.3 606.7,742.7L673.3,742.7C676.0,743.8 678.9,744.4 681.3,746.0C684.0,747.7 685.8,750.4 688.0,752.7"/>
<ellipse class="t w" cx="612.7" cy="760.9" rx="12.0" ry="12.3" transform="rotate(-10.0 612.7 760.9)"/>
<ellipse class="t" cx="613.1" cy="760.4" rx="10.1" ry="10.4" transform="rotate(-10.0 613.1 760.4)"/>
<ellipse class="t" cx="613.3" cy="760.0" rx="8.3" ry="8.5" transform="rotate(-10.0 613.3 760.0)"/>
<path class="t" d="M654.7,743.3L657.3,768.9"/>
<path class="t" d="M660.0,743.3L662.7,768.7"/>
<path class="t" d="M662.0,743.3L665.3,767.6"/>
<path class="m" d="M601.3,775.3C607.6,775.8 613.8,776.8 620.0,776.7C629.0,776.5 637.9,774.6 646.7,772.7C653.4,771.2 660.3,769.9 666.7,767.3C673.8,764.4 680.0,759.5 686.7,755.6"/>
<path class="h" d="M609.3,776.9C617.3,776.4 625.4,776.4 633.3,775.3C642.3,774.2 651.4,772.9 660.0,770.0C667.0,767.6 673.3,763.8 680.0,760.7"/>
</g>
<path class="t" d="M599.7,683.7V822.5"/>
<path class="o" d="M558.5,805.6C556.7,808.8 554.6,811.8 552.9,815.0C550.6,819.4 549.1,824.2 546.7,828.5C542.2,836.5 536.5,844.0 530.0,850.4C523.2,857.1 514.7,861.8 507.1,867.5"/>
<path class="o" d="M507.1,867.5L469.6,893.1L467.1,896.7L467.1,900.4L470.6,912.9L486.2,932.7L489.4,933.3L492.5,931.7L494.6,926.5L489.4,915.0L489.2,911.9L490.4,909.6L522.7,891.0"/>
<path class="o" d="M558.5,805.6L560.2,803.3L562.9,801.9L566.5,802.1L684.2,877.9L687.9,881.2L689.6,885.8L688.8,892.1L684.2,900.4"/>
<path class="o" d="M684.2,900.4C681.4,904.6 678.5,908.7 675.8,912.9C673.7,916.3 670.8,919.5 669.6,923.3C668.3,927.3 667.9,931.7 668.5,935.8C669.0,938.9 671.6,941.5 671.7,944.6C671.7,947.3 670.3,949.9 669.6,952.5"/>
<path class="o" d="M669.6,952.5L652.9,969.2L621.7,998.3L600.8,1017.1L595.0,1019.6L589.4,1020.2L583.1,1019.2L576.9,1016.7L559.2,1004.6L556.0,1000.8L555.0,997.3L556.7,991.7L559.2,989.4L562.3,989.4L568.5,995.2L572.7,997.1L577.9,997.7L582.5,997.1L586.2,995.2L610.2,968.1"/>
<path class="o" d="M508.1,870.8L615.0,963.3"/>
<path class="m" d="M509.6,875.8L610.2,968.1"/>
<path class="t" d="M509.6,875.8L508.8,871.7"/>
<path class="t" d="M522.7,891.0L510.8,879.6"/>
<path class="m" d="M684.2,900.4L655.0,935.8L621.7,967.1L615.0,963.3"/>
<path class="t" d="M615.4,964.2L590.4,990.4L586.2,994.2L582.1,995.6L576.9,995.2L572.1,993.5L563.8,990.0"/>
<path class="t" d="M557.5,998.8L580.0,1007.1L584.6,1006.2L588.8,1002.9L615.4,973.3L655.0,935.8"/>
<path class="t" d="M512.3,870.2C518.9,863.6 526.0,857.5 532.1,850.4C538.2,843.3 543.1,835.3 548.8,827.9C552.5,823.0 556.4,818.2 560.2,813.3"/>
<path class="t" d="M560.2,813.3L561.7,810.8L564.2,810.0L567.5,810.8L677.5,881.7L680.4,884.2L681.2,887.9L680.0,892.1L625.4,955.4L622.1,956.7L618.5,955.6L512.3,870.2"/>
<path class="t" d="M509.6,872.9L475.8,895.4L475.0,899.4L477.9,909.8L486.7,923.8"/>
<path class="t" d="M507.1,880.0L484.6,902.5L484.2,906.7L486.7,915.0L489.4,912.9"/>
<path class="m" d="M593.5,845.2L595.6,842.5L598.8,841.0L609.2,847.3L610.4,849.4L610.2,852.1L605.0,856.7L596.7,853.5L594.2,850.4Z"/>
<path class="t" d="M598.8,852.5C598.6,850.8 597.6,848.9 598.3,847.3C599.0,846.0 600.4,845.0 601.9,844.6C604.6,843.8 606.7,847.4 609.2,848.8"/>
<path class="m" d="M615.4,861.9L617.5,858.3L620.6,856.7L631.0,862.9L631.7,865.0L631.0,867.5L624.8,872.3L618.5,869.2L616.0,866.0Z"/>
<path class="t" d="M620.2,868.3C620.1,866.7 619.2,864.8 620.0,863.3C620.7,862.1 622.0,861.2 623.3,860.8C626.0,860.1 628.2,863.3 630.6,864.6"/>
<rect x="848.9" y="706.9" width="215.1" height="298" style="stroke-width:3.8;stroke-linejoin:miter"/>
<path class="u" d="M113,788.5V765q0,-4.300 4.300,-4.300H142.600q4.300,0 4.300,4.300V788.500"/>
<path class="h" d="M118,788V766.500q0,-2.500 2.500,-2.500H139.400q2.500,0 2.500,2.500V788"/>
<path class="t w" d="M129.500,761.500v3.500h3.500v6.500h-3.500v6.500h3.500v6h-3.500v4"/>
<path class="u" d="M104.600,794.500q0,-5.500 5.500,-5.500H150q5.500,0 5.500,5.500V848q0,14 -14,14H118.600q-14,0 -14,-14Z"/>
<path class="h" d="M107.800,793V847q0,12 12,12H140.300q12,0 12,-12V793"/>
<path class="u w" d="M116.400,867q0,-4 4,-5q9.600,-2.600 19.200,0q4,1 4,5V882q0,4 -4,4.500H120.400q-4,-.5 -4,-4.500Z"/>
<path class="h" d="M119.500,865V884M140.500,865V884"/>
<path class="u" d="M122,887V976.400M138.600,887V976.400"/>
<text transform="translate(135.300,849) rotate(-90)" font-size="14.800" textLength="51" lengthAdjust="spacingAndGlyphs" style="stroke:none;fill:#2a2320">GameSir</text>
<path class="u" d="M216.2,796V733.500q0,-4.500 4.500,-4.500H282.300q4.500,0 4.500,4.500V796"/>
<path class="h" d="M220.4,796V731.500M282.800,796V731.500"/>
<rect class="u" x="225.3" y="756.2" width="16.200" height="14" rx="3.800"/>
<rect class="u" x="260.800" y="756.2" width="16.200" height="14" rx="3.800"/>
<path class="u" d="M207.4,800q0,-4 4,-4H291q4,0 4,4V888q0,15 -15,15H222.400q-15,0 -15,-15Z"/>
<path class="h" d="M214.300,798V886q0,8 8,8H280.600q8,0 8,-8V798"/>
<path class="u w" d="M239,899q-5.400,1.500 -5.400,6V923q0,4.500 4.500,4.800H263q4.500,-.3 4.500,-4.800V905q0,-4.500 -5.400,-6q-11.500,-2.500 -23.100,0Z"/>
<path class="u" d="M240.900,928V1016.800M260.900,928V1016.800"/>
<circle class="k" cx="252.600" cy="863.800" r="4.600"/>
<path class="t" d="M252.600,863V822"/>
<path class="k" d="M252.600,817.500l-3,6h6z"/>
<path class="t" d="M252.600,855.500q0,-5 -4,-7.500t-4.500,-7V838"/>
<path class="t" d="M252.600,849q0,-4 4,-6.500t5,-6.500V832"/>
<rect class="k" x="259" y="828" width="5.200" height="4.800"/>
<rect x="8" y="478.500" width="256" height="35.500" style="fill:#fff;stroke:none"/>
<use href="#emb" transform="translate(957,769.8)"/>
<text x="918.5" y="806.5" font-size="17.3" textLength="77" lengthAdjust="spacingAndGlyphs" class="gs">GameSir</text>
<text x="12" y="498.9" font-size="20.6" textLength="236.5" lengthAdjust="spacingAndGlyphs">2.4Ghz wireless USB Dongle</text>
<text x="81.8" y="531.4" font-size="20.9" textLength="84.5" lengthAdjust="spacingAndGlyphs">(Pull Out)</text>
<text x="946.2" y="239.9" font-size="22.8" textLength="90.4" lengthAdjust="spacingAndGlyphs">Controller</text>
<text x="119.7" y="1047.3" font-size="23" textLength="158" lengthAdjust="spacingAndGlyphs">Micro-USB Cable</text>
<text x="579.5" y="1046.5" font-size="22.6" textLength="35" lengthAdjust="spacingAndGlyphs">Clip</text>
<text x="870" y="1047.3" font-size="23" textLength="174" lengthAdjust="spacingAndGlyphs">Instruction Manual</text>
<text x="878" y="856.3" font-size="21.4" textLength="157" lengthAdjust="spacingAndGlyphs">Instruction Manual</text>
<text x="145.6" y="1125.7" font-size="19.2" textLength="721" lengthAdjust="spacingAndGlyphs" style="stroke-width:.8">NOTE: The clip included in the package is used to stabilize your Smartphone in the phone holder.</text>
<text x="145.6" y="1150.7" font-size="19.2" textLength="909" lengthAdjust="spacingAndGlyphs" style="stroke-width:.8">If your phone is easy to fall off from the phone holder of G4s, attach the clip to phone holder, your phone will be tightened.</text>
</svg>
</body></html>
